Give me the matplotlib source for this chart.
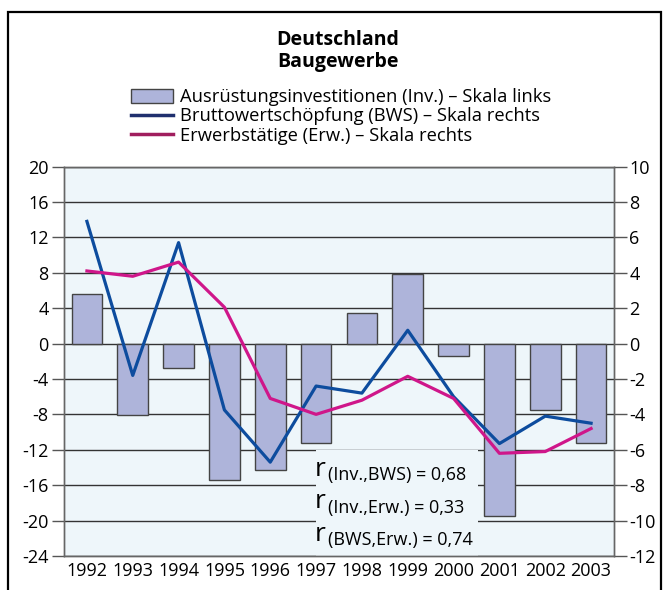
import matplotlib.pyplot as plt
from matplotlib.patches import Rectangle, Patch
from matplotlib.lines import Line2D

plt.rcParams['font.family'] = ['Open Sans', 'DejaVu Sans']
plt.rcParams['axes.unicode_minus'] = False

years = ["1992", "1993", "1994", "1995", "1996", "1997", "1998", "1999", "2000", "2001", "2002", "2003"]
inv = [5.6, -8.1, -2.8, -15.4, -14.3, -11.2, 3.4, 7.8, -1.4, -19.5, -7.5, -11.2]
bws = [6.9, -1.8, 5.7, -3.75, -6.7, -2.4, -2.8, 0.75, -3.0, -5.65, -4.1, -4.5]
erw = [4.1, 3.8, 4.6, 2.05, -3.1, -4.0, -3.2, -1.85, -3.1, -6.2, -6.1, -4.8]

left_ticks = list(range(-24, 21, 4))
right_ticks = list(range(-12, 11, 2))
r_labels = ["(Inv.,BWS) = 0,68", "(Inv.,Erw.) = 0,33", "(BWS,Erw.) = 0,74"]

W, H = 669, 590
fig = plt.figure(figsize=(W / 100, H / 100), dpi=100)

def fx(px):
    return px / W

def fy(py):
    return 1 - py / H

ax = fig.add_axes([fx(64), fy(556), fx(614) - fx(64), fy(166.5) - fy(556)])
ax.set_facecolor("#eef6fa")
x = list(range(len(years)))
ax.bar(x, inv, width=0.67, color="#aeb4da", edgecolor="#444444", linewidth=1, zorder=3)
ax.set_ylim(-24, 20)
ax.set_xlim(-0.5, len(years) - 0.5)
ax.set_yticks(left_ticks)
ax.set_xticks(x)
ax.set_xticklabels(years)
ax.grid(axis="y", color="#333333", linewidth=1, zorder=1)
ax.set_axisbelow(True)
ax.tick_params(axis="y", length=9, width=1, color="#555555", labelsize=13, pad=2)
ax.tick_params(axis="x", length=0, labelsize=13, pad=4)
for s in ax.spines.values():
    s.set_color("#666666")
    s.set_linewidth(1)

# box behind the correlation text
ax.add_patch(Rectangle((fx(316), fy(556)), fx(478) - fx(316), fy(450) - fy(556),
                       transform=fig.transFigure, facecolor="#eef6fa", edgecolor="none", zorder=2))

ax2 = ax.twinx()
ax2.plot(x, bws, color="#0d4c9e", linewidth=2.3, zorder=4)
ax2.plot(x, erw, color="#cf168a", linewidth=2.3, zorder=4)
ax2.set_ylim(-12, 10)
ax2.set_yticks(right_ticks)
ax2.tick_params(axis="y", length=9, width=1, color="#555555", labelsize=13, pad=2)
for s in ax2.spines.values():
    s.set_color("#666666")
    s.set_linewidth(1)

# title
fig.text(fx(338), fy(51), "Deutschland\nBaugewerbe", ha="center", va="center",
         fontsize=14, fontweight="bold", linespacing=1.1)

handles = [
    Patch(facecolor="#aeb4da", edgecolor="#444444", linewidth=1),
    Line2D([0], [0], color="#1f2f6e", linewidth=2.5),
    Line2D([0], [0], color="#a01e5e", linewidth=2.5),
]
labels = ["Ausrüstungsinvestitionen (Inv.) – Skala links",
          "Bruttowertschöpfung (BWS) – Skala rechts",
          "Erwerbstätige (Erw.) – Skala rechts"]
fig.legend(handles, labels, loc="upper left", bbox_to_anchor=(fx(131), fy(88)),
           frameon=False, fontsize=13.2, handlelength=2.3, handleheight=0.8,
           labelspacing=0.08, handletextpad=0.4, borderaxespad=0, borderpad=0)

# correlation coefficients
for i, lab in enumerate(r_labels):
    base = 476 + i * 32.5
    fig.text(fx(315), fy(base), "r", fontsize=19, va="baseline", ha="left")
    fig.text(fx(328), fy(base + 4), lab, fontsize=13, va="baseline", ha="left")

# outer frame
fig.add_artist(Rectangle((fx(8), -0.1), fx(661) - fx(8), fy(12) + 0.1,
                         transform=fig.transFigure, facecolor="none",
                         edgecolor="black", linewidth=1.6))

fig.savefig("out.png", dpi=100)
